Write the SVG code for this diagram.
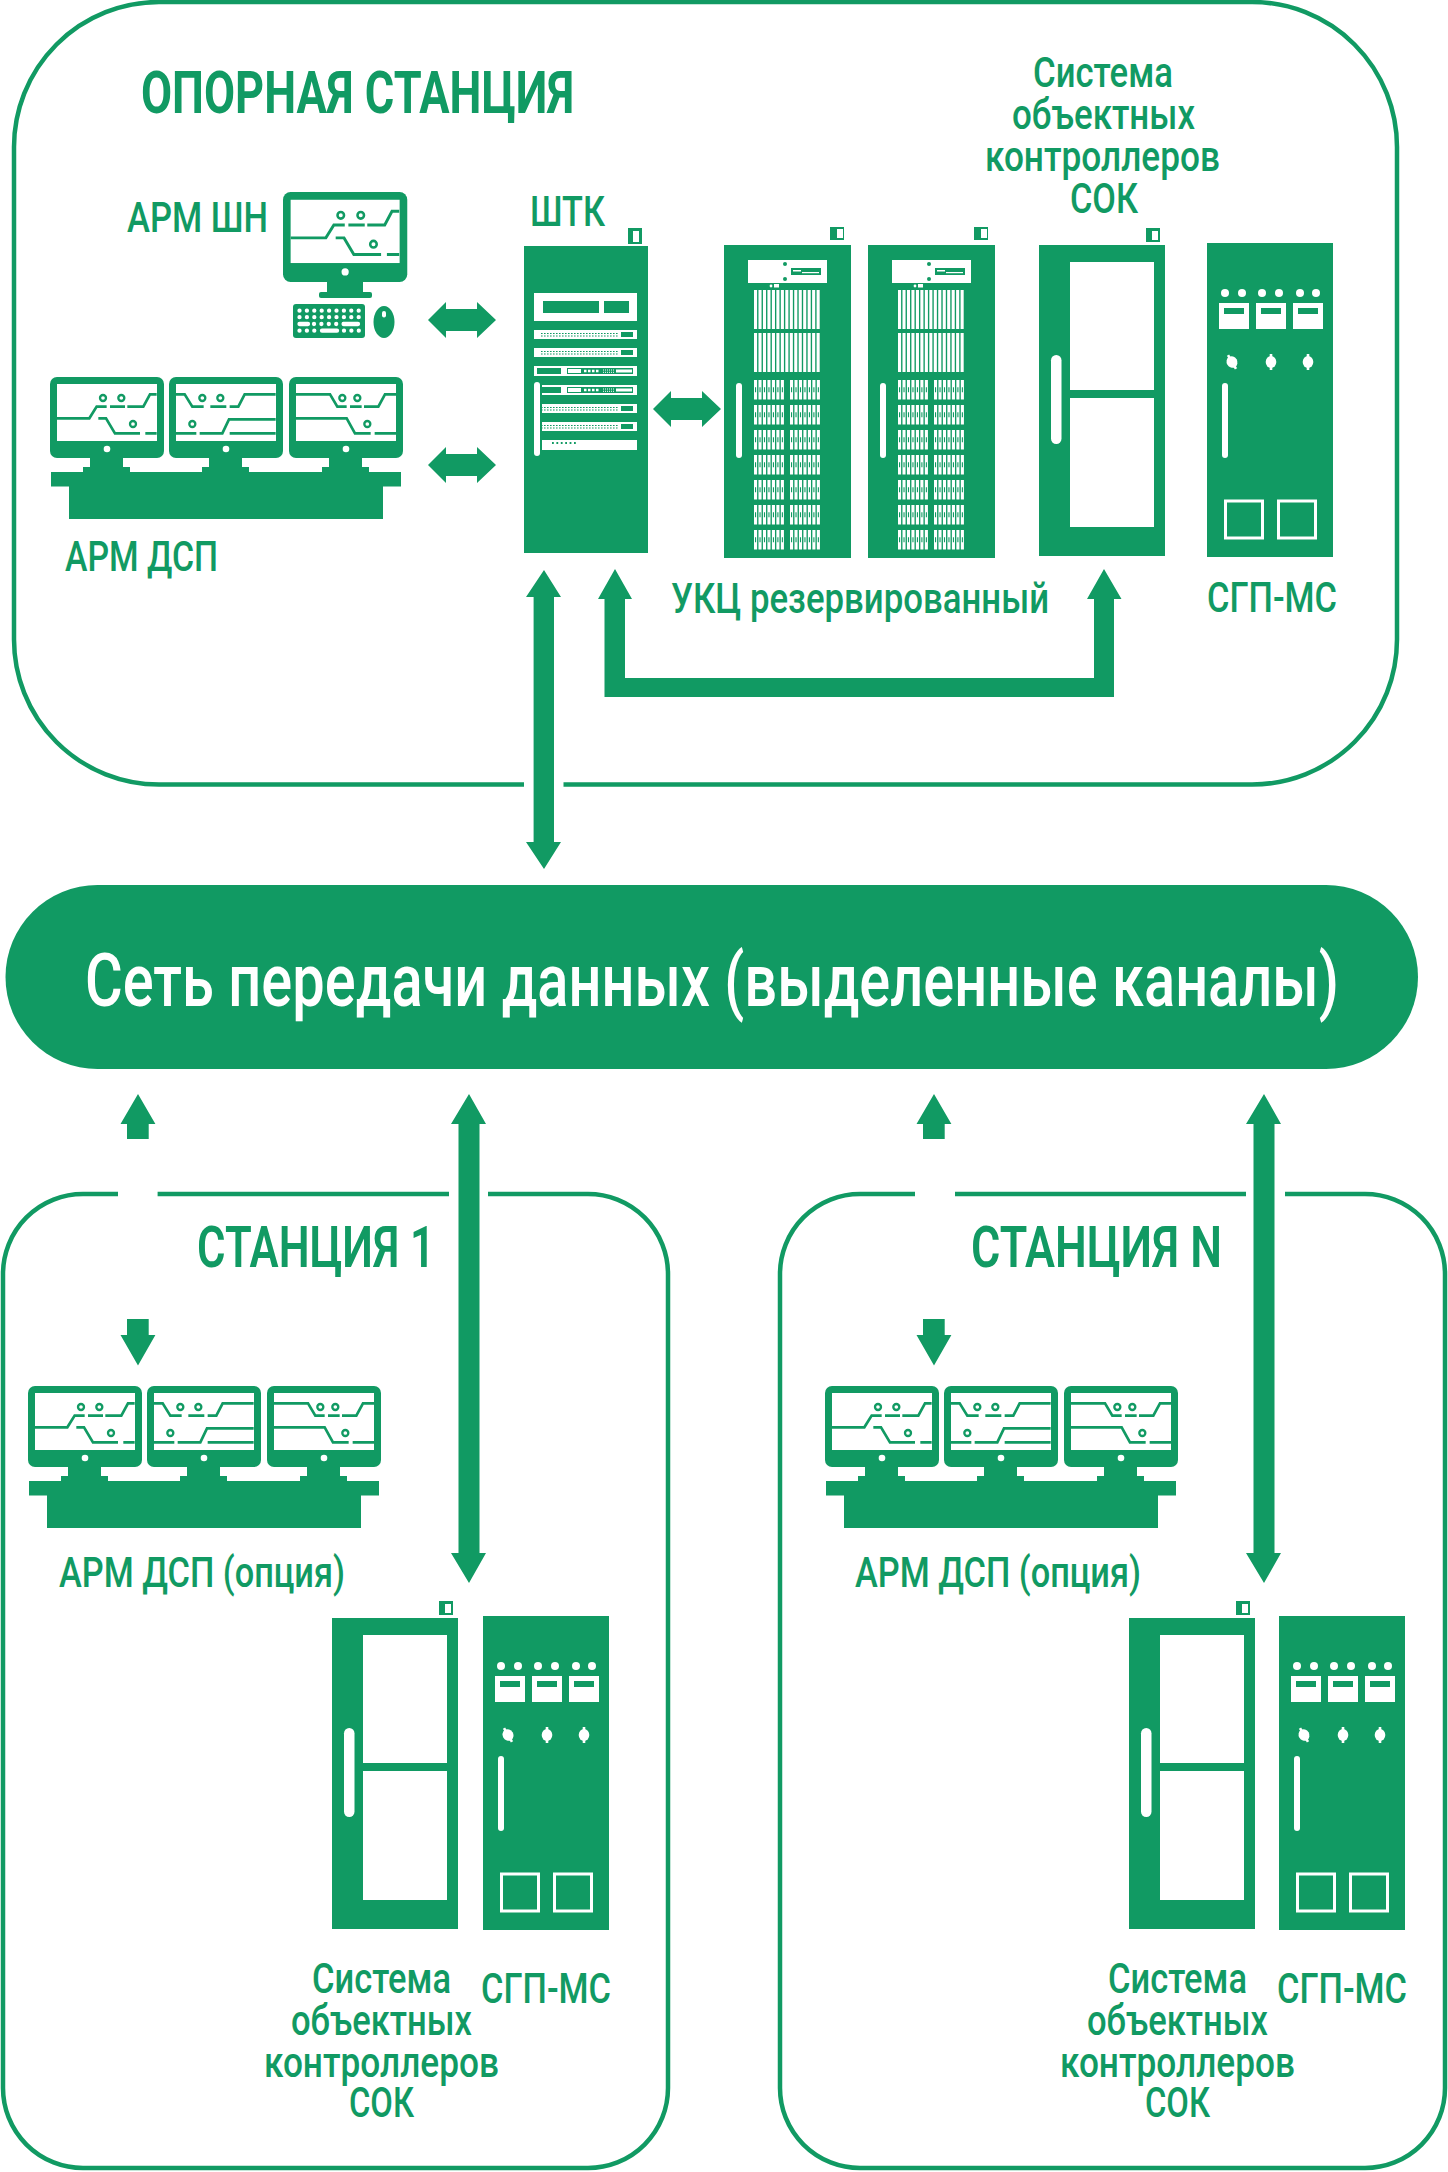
<svg xmlns="http://www.w3.org/2000/svg" xmlns:xlink="http://www.w3.org/1999/xlink" width="1448" height="2172" viewBox="0 0 1448 2172">
<style>
.g{fill:#119a63}.w{fill:#fff}
.o{fill:none;stroke:#119a63;stroke-width:4.5}
.c{fill:none;stroke:#119a63;stroke-width:8}
.cc{fill:#fff;stroke:#119a63;stroke-width:7}
text{font-family:"Roboto","Liberation Sans",sans-serif;fill:#119a63;font-size:42px;font-weight:500}
.t{font-size:59px;font-weight:700}
.s{font-size:57px;font-weight:600}
.n{font-size:60px;fill:#fff;font-weight:500}
</style>
<defs>
<g id="frame">
<rect class="g" width="114" height="81" rx="7"/>
<rect class="w" x="7" y="7" width="100" height="57"/>
<circle class="w" cx="57" cy="72" r="3.3"/>
</g>
<g id="circ1" transform="scale(.3333) translate(-150,-681)">
<path class="c" d="M171 805H268L290 770H320M330 770H375M382 770H430L450 733H470M295 805H318L345 850H420M436 850H470"/>
<circle class="cc" cx="309" cy="744" r="9"/><circle class="cc" cx="364" cy="744" r="9"/><circle class="cc" cx="399" cy="822" r="9"/>
</g>
<g id="circ2" transform="scale(.3333) translate(-508,-681)">
<path class="c" d="M528 733H555L578 770H612M632 770H680M690 770H716L735 733H828M528 850H590M600 850H668L688 808H828M690 850H828"/>
<circle class="cc" cx="608" cy="744" r="9"/><circle class="cc" cx="662" cy="744" r="9"/><circle class="cc" cx="578" cy="822" r="9"/>
</g>
<g id="circ3" transform="scale(.3333) translate(-867,-681)">
<path class="c" d="M888 733H990L1012 770H1040M1050 770H1085M1092 770H1135L1155 733H1188M888 805H1040L1065 850H1112M1124 850H1188"/>
<circle class="cc" cx="1027" cy="744" r="9"/><circle class="cc" cx="1072" cy="744" r="9"/><circle class="cc" cx="1102" cy="822" r="9"/>
</g>
<g id="stand"><rect class="g" x="40" y="80" width="33" height="12"/><rect class="g" x="33" y="90" width="47" height="6"/></g>
<g id="desk-set">
<use href="#frame"/><use href="#circ1"/><use href="#stand"/>
<g transform="translate(119,0)"><use href="#frame"/><use href="#circ2"/><use href="#stand"/></g>
<g transform="translate(239,0)"><use href="#frame"/><use href="#circ3"/><use href="#stand"/></g>
<rect class="g" x="1" y="95" width="350" height="14.5"/>
<rect class="g" x="19" y="109" width="314" height="33"/>
</g>
<g id="door">
<rect class="g" width="126" height="311"/>
<rect class="w" x="31" y="17" width="84" height="128"/>
<rect class="w" x="31" y="153" width="84" height="129"/>
<rect class="w" x="12" y="110" width="10.5" height="89" rx="5.2"/>
<rect class="g" x="107" y="-17" width="14" height="14"/><rect class="w" x="113" y="-14" width="6" height="9"/>
</g>
<g id="knob"><ellipse class="w" cx="0" cy="0" rx="5.3" ry="6"/><rect class="w" x="-1.3" y="-8" width="2.6" height="16"/></g>
<g id="sgp">
<rect class="g" width="126" height="314"/>
<g class="w"><circle cx="18" cy="50" r="4"/><circle cx="35" cy="50" r="4"/><circle cx="55" cy="50" r="4"/><circle cx="72" cy="50" r="4"/><circle cx="93" cy="50" r="4"/><circle cx="109" cy="50" r="4"/>
<rect x="12" y="60" width="30" height="26"/><rect x="49" y="60" width="30" height="26"/><rect x="86" y="60" width="30" height="26"/>
<rect x="15" y="140" width="6" height="75" rx="3"/></g>
<rect class="g" x="17" y="65" width="20" height="6"/><rect class="g" x="54" y="65" width="20" height="6"/><rect class="g" x="91" y="65" width="20" height="6"/>
<use href="#knob" transform="translate(25,119) rotate(-30)"/><use href="#knob" transform="translate(64,119)"/><use href="#knob" transform="translate(101,119)"/>
<rect x="18.500" y="258" width="37" height="37" fill="none" stroke="#fff" stroke-width="3"/>
<rect x="71.500" y="258" width="37" height="37" fill="none" stroke="#fff" stroke-width="3"/>
</g>
<g id="ukc-mod">
<line x1="30" x2="61" y1="9.700" y2="9.700" stroke="#fff" stroke-width="19.500" stroke-dasharray="3.100 1.370"/>
<line x1="66" x2="97" y1="9.700" y2="9.700" stroke="#fff" stroke-width="19.500" stroke-dasharray="3.100 1.370"/>
<line x1="31" x2="61" y1="9.700" y2="9.700" stroke="#119a63" stroke-width="5" stroke-dasharray="1.100 3.370"/>
<line x1="67" x2="97" y1="9.700" y2="9.700" stroke="#119a63" stroke-width="5" stroke-dasharray="1.100 3.370"/>
</g>
<g id="ukc">
<rect class="g" width="127" height="313"/>
<rect class="w" x="24" y="15" width="79" height="23"/>
<circle class="g" cx="61" cy="19" r="2"/><circle class="g" cx="61" cy="34" r="2"/>
<rect class="g" x="67" y="23" width="30" height="7"/>
<rect class="w" x="69" y="25" width="8" height="1.500"/><rect class="w" x="78" y="27" width="17" height="1.200"/>
<circle class="w" cx="47" cy="41" r="1.400"/><rect class="w" x="50" y="39" width="5" height="3.500"/>
<line x1="30" x2="97" y1="64.500" y2="64.500" stroke="#fff" stroke-width="39" stroke-dasharray="3.100 1.370"/>
<line x1="30" x2="97" y1="107.500" y2="107.500" stroke="#fff" stroke-width="39" stroke-dasharray="3.100 1.370"/>
<use href="#ukc-mod" y="135"/><use href="#ukc-mod" y="160"/><use href="#ukc-mod" y="185"/><use href="#ukc-mod" y="210"/><use href="#ukc-mod" y="235"/><use href="#ukc-mod" y="260"/><use href="#ukc-mod" y="285"/>
<rect class="w" x="12" y="138" width="6" height="75" rx="3"/>
<rect class="g" x="106" y="-18" width="14" height="13"/><rect class="w" x="113" y="-16" width="6" height="9"/>
</g>
<g id="row-a">
<path d="M541 333.500H618M541 336H618" stroke="#119a63" stroke-width="1.200" stroke-dasharray="1.600 1.400" fill="none"/>
<rect class="g" x="621" y="332" width="12" height="5"/>
</g>
<g id="row-b">
<rect class="g" x="567" y="2" width="66" height="6"/>
<rect class="w" x="568" y="3" width="13" height="4"/><rect class="w" x="616" y="3.500" width="16" height="3"/>
<path d="M584 5H600" stroke="#fff" stroke-width="2.500" stroke-dasharray="2.500 1.500" fill="none"/>
<path d="M603 4H615M603 6.300H615" stroke="#fff" stroke-width="1" stroke-dasharray="1 1" fill="none"/>
</g>
<polygon id="h-arrow" class="g" points="-34,0 -16,-18 -16,-11 15,-11 15,-18 34,0 15,18 15,11 -16,11 -16,18"/>
</defs>

<g id="connectors">
<path class="o" d="M563.500 784.500H1252A145 145 0 0 0 1397 639.500V147A145 145 0 0 0 1252 2H159A145 145 0 0 0 14 147V639.500A145 145 0 0 0 159 784.500H524"/>
<path class="o" d="M157.600 1194H449M488 1194H588A80 80 0 0 1 668 1274V2088A80 80 0 0 1 588 2168H83A80 80 0 0 1 3 2088V1274A80 80 0 0 1 83 1194H118"/>
<path class="o" d="M955 1194H1246M1285 1194H1365A80 80 0 0 1 1445 1274V2088A80 80 0 0 1 1365 2168H860A80 80 0 0 1 780 2088V1274A80 80 0 0 1 860 1194H915"/>
<use href="#h-arrow" x="462" y="320"/>
<use href="#h-arrow" x="462" y="465"/>
<use href="#h-arrow" x="687" y="409"/>
<polygon class="g" points="544,570 561,597 554,597 554,842 561,842 544,869 526,842 533.600,842 533.600,597 526,597"/>
<polygon class="g" points="615,569 632,599 625,599 625,678 1094,678 1094,599 1087,599 1104,569 1121.500,599 1114,599 1114,697 604.500,697 604.500,599 598,599"/>
<polygon class="g" points="138,1094 155.400,1124 148.700,1124 148.700,1139 127,1139 127,1124 120.500,1124"/>
<polygon class="g" points="127,1319 148.700,1319 148.700,1335 155.400,1335 138,1365.500 120.500,1335 127,1335"/>
<polygon class="g" points="469,1094 486,1124 479.500,1124 479.500,1553 486,1553 469,1583 451,1553 458.500,1553 458.500,1124 451,1124"/>
<polygon class="g" points="934,1094 951.400,1124 944.700,1124 944.700,1139 923,1139 923,1124 916.500,1124"/>
<polygon class="g" points="923,1319 944.700,1319 944.700,1335 951.400,1335 934,1365.500 916.500,1335 923,1335"/>
<polygon class="g" points="1264,1094 1281,1124 1274.500,1124 1274.500,1553 1281,1553 1264,1583 1246,1553 1253.500,1553 1253.500,1124 1246,1124"/>
</g>

<g id="title"><text class="t" x="141" y="113" textLength="433" lengthAdjust="spacingAndGlyphs">ОПОРНАЯ СТАНЦИЯ</text></g>

<g id="arm-shn">
<text x="127" y="232" textLength="141" lengthAdjust="spacingAndGlyphs">АРМ ШН</text>
<g transform="translate(283,192) scale(1.09,1.11)"><use href="#frame"/><use href="#circ1"/></g>
<rect class="g" x="327" y="281" width="36" height="12"/><rect class="g" x="319" y="292" width="53" height="6" rx="2"/>
<rect class="g" x="293" y="304" width="72" height="34" rx="3"/>
<g fill="none" stroke="#fff" stroke-width="4.300" stroke-linecap="round">
<path d="M299.500 310.700H360" stroke-dasharray="0 7.400"/><path d="M299.500 317.200H360" stroke-dasharray="0 7.400"/>
<path d="M314 324H345" stroke-dasharray="0 7.400"/><path d="M299.500 324H308M344 324H358"/>
<path d="M299.500 330.700H315" stroke-dasharray="0 7.400"/><path d="M322 330.700H337"/><path d="M344 330.700H360" stroke-dasharray="0 7.400"/>
</g>
<ellipse class="g" cx="384" cy="322" rx="10.500" ry="16"/><rect class="w" x="382" y="311" width="4" height="6.500" rx="2"/>
</g>

<g id="arm-dsp">
<use href="#desk-set" transform="translate(50,377)"/>
<text x="65" y="571" textLength="153" lengthAdjust="spacingAndGlyphs">АРМ ДСП</text>
</g>

<g id="shtk">
<text x="530" y="226" textLength="75" lengthAdjust="spacingAndGlyphs">ШТК</text>
<rect class="g" x="524" y="246" width="124" height="307"/>
<rect class="g" x="628" y="228" width="14" height="16"/><rect class="w" x="633" y="231" width="6" height="11"/>
<rect class="w" x="534" y="293" width="103" height="28"/>
<rect class="g" x="543" y="301" width="56" height="12"/><rect class="g" x="604" y="301" width="25" height="12"/>
<rect class="w" x="534" y="330" width="103" height="9"/><use href="#row-a"/>
<rect class="w" x="534" y="348" width="103" height="9"/><use href="#row-a" y="18"/>
<rect class="w" x="534" y="366" width="103" height="10"/><rect class="g" x="537" y="368" width="24" height="6"/><use href="#row-b" y="366"/>
<rect class="w" x="534" y="382" width="6" height="74" rx="3"/>
<rect class="w" x="542" y="385" width="95" height="10"/><rect class="g" x="542" y="387" width="19" height="6"/><use href="#row-b" y="385"/>
<rect class="w" x="542" y="404" width="95" height="9"/><use href="#row-a" y="74"/>
<rect class="w" x="542" y="422" width="95" height="9"/><use href="#row-a" y="92"/>
<rect class="w" x="542" y="440" width="95" height="10"/>
<path d="M552 443H577" stroke="#119a63" stroke-width="1.800" stroke-dasharray="1.800 2.600" fill="none"/>
</g>

<g id="ukc-1"><use href="#ukc" transform="translate(724,245)"/></g>
<g id="ukc-2"><use href="#ukc" transform="translate(868,245)"/></g>
<text x="671" y="613" textLength="378" lengthAdjust="spacingAndGlyphs">УКЦ резервированный</text>

<g id="sok-main">
<text x="1033" y="87" textLength="140" lengthAdjust="spacingAndGlyphs">Система</text>
<text x="1012" y="129" textLength="183" lengthAdjust="spacingAndGlyphs">объектных</text>
<text x="985" y="171" textLength="235" lengthAdjust="spacingAndGlyphs">контроллеров</text>
<text x="1070" y="213" textLength="68" lengthAdjust="spacingAndGlyphs">СОК</text>
<use href="#door" transform="translate(1039,245)"/>
</g>
<g id="sgp-main">
<use href="#sgp" transform="translate(1207,243)"/>
<text x="1207" y="612" textLength="130" lengthAdjust="spacingAndGlyphs">СГП-МС</text>
</g>

<g id="network">
<rect class="g" x="5.500" y="885" width="1412.500" height="184" rx="92"/>
<text class="n" transform="translate(85,1006) scale(1,1.25)" textLength="1254" lengthAdjust="spacingAndGlyphs">Сеть передачи данных (выделенные каналы)</text>
</g>

<g id="station-1">
<text class="s" x="197" y="1267" textLength="238" lengthAdjust="spacingAndGlyphs">СТАНЦИЯ 1</text>
<use href="#desk-set" transform="translate(28,1386)"/>
<text x="59" y="1587" textLength="286" lengthAdjust="spacingAndGlyphs">АРМ ДСП (опция)</text>
<use href="#door" transform="translate(332,1618)"/>
<use href="#sgp" transform="translate(483,1616)"/>
<text x="312" y="1993" textLength="139" lengthAdjust="spacingAndGlyphs">Система</text>
<text x="291" y="2035" textLength="181" lengthAdjust="spacingAndGlyphs">объектных</text>
<text x="264" y="2077" textLength="235" lengthAdjust="spacingAndGlyphs">контроллеров</text>
<text x="349" y="2117" textLength="65" lengthAdjust="spacingAndGlyphs">СОК</text>
<text x="481" y="2003" textLength="130" lengthAdjust="spacingAndGlyphs">СГП-МС</text>
</g>

<g id="station-n">
<text class="s" x="971" y="1267" textLength="251" lengthAdjust="spacingAndGlyphs">СТАНЦИЯ N</text>
<use href="#desk-set" transform="translate(825,1386)"/>
<text x="855" y="1587" textLength="286" lengthAdjust="spacingAndGlyphs">АРМ ДСП (опция)</text>
<use href="#door" transform="translate(1129,1618)"/>
<use href="#sgp" transform="translate(1279,1616)"/>
<text x="1108" y="1993" textLength="139" lengthAdjust="spacingAndGlyphs">Система</text>
<text x="1087" y="2035" textLength="181" lengthAdjust="spacingAndGlyphs">объектных</text>
<text x="1060" y="2077" textLength="235" lengthAdjust="spacingAndGlyphs">контроллеров</text>
<text x="1145" y="2117" textLength="65" lengthAdjust="spacingAndGlyphs">СОК</text>
<text x="1277" y="2003" textLength="130" lengthAdjust="spacingAndGlyphs">СГП-МС</text>
</g>
</svg>
